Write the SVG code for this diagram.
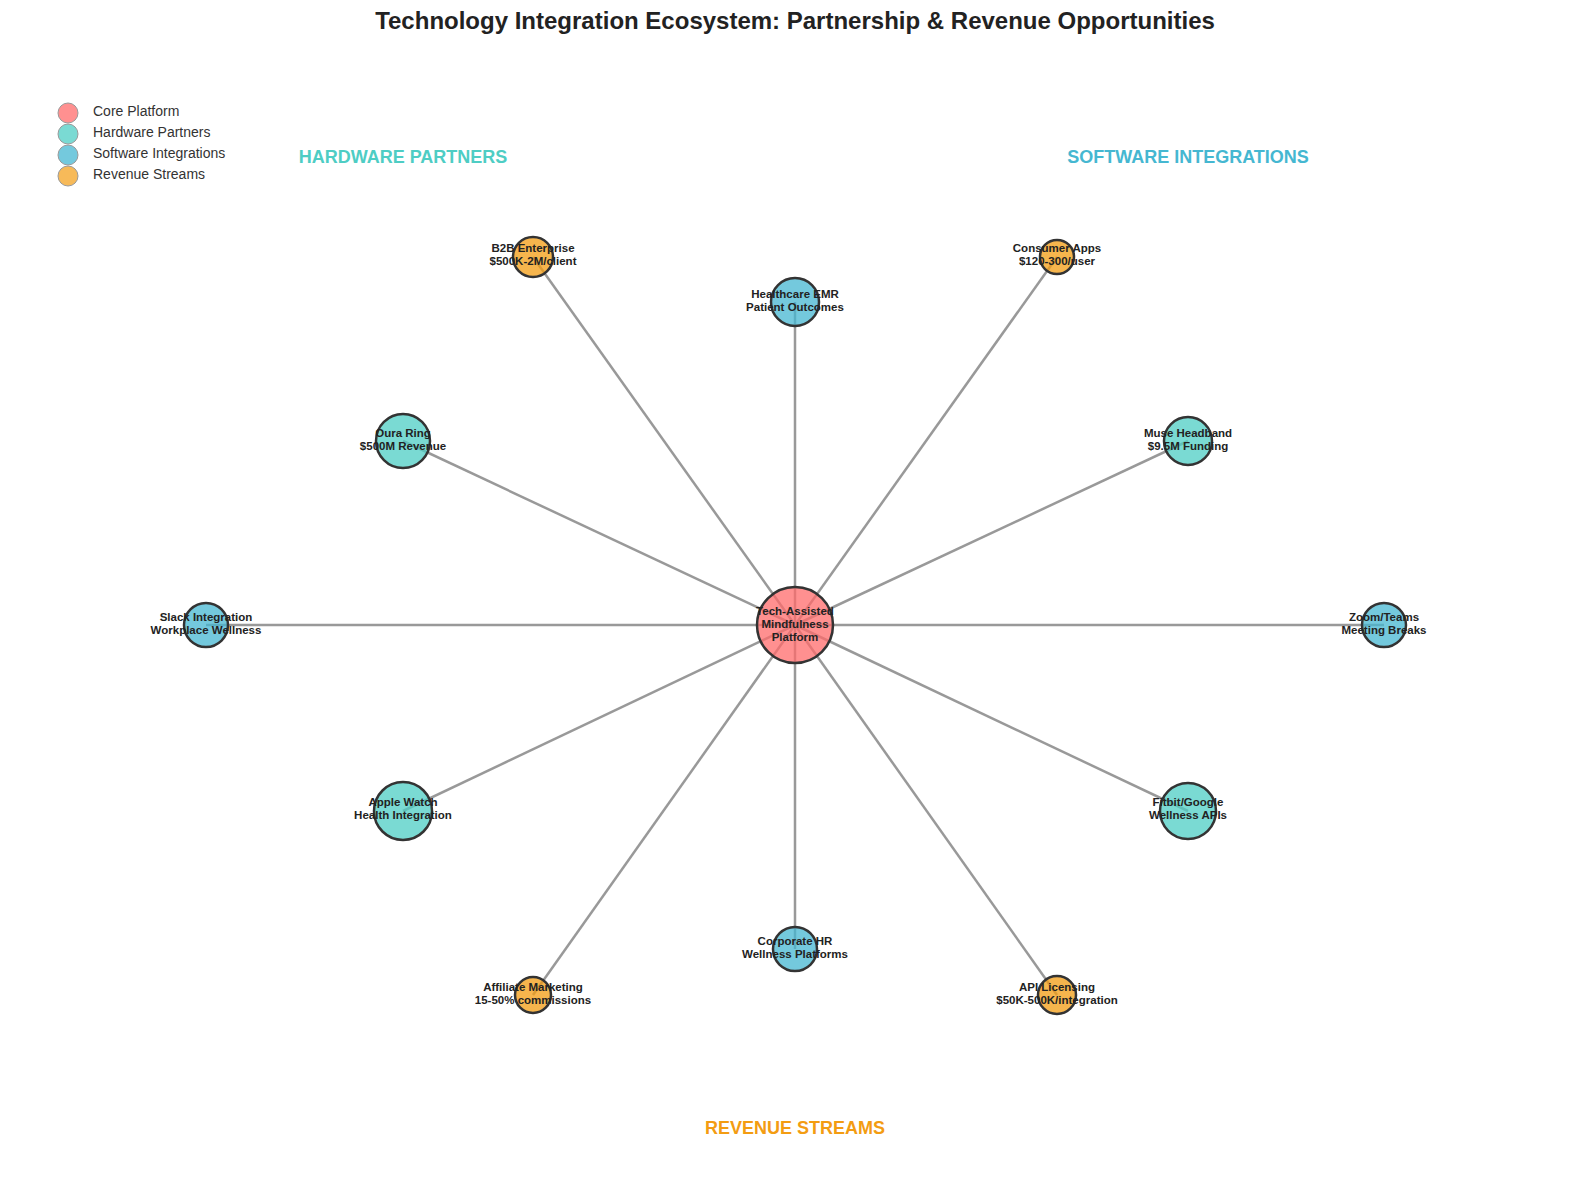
<svg xmlns="http://www.w3.org/2000/svg" width="1589" height="1190" viewBox="0 0 1589 1190">
<style>
.e{stroke:#999;stroke-width:2.5}
.n{stroke:#333;stroke-width:2.5;fill-opacity:.75}
.c{fill:#FF6B6B}.h{fill:#4ECDC4}.s{fill:#45B7D1}.r{fill:#F39C12}
.l{font-family:"Liberation Sans",Arial,sans-serif;font-size:11.5px;font-weight:bold;fill:#222;text-anchor:middle}
.g{font-family:"Liberation Sans",Arial,sans-serif;font-size:14px;fill:#333}
.sec{font-family:"Liberation Sans",Arial,sans-serif;font-size:18px;font-weight:bold;text-anchor:middle}
</style>
<rect width="1589" height="1190" fill="#fff"/>
<text x="795" y="29" text-anchor="middle" font-family="Liberation Sans,Arial,sans-serif" font-size="24" font-weight="bold" fill="#222">Technology Integration Ecosystem: Partnership &amp; Revenue Opportunities</text>
<g id="legend">
<circle cx="68" cy="113" r="10" class="c" fill-opacity=".75" stroke="#999"/><text x="93" y="116" class="g">Core Platform</text>
<circle cx="68" cy="134" r="10" class="h" fill-opacity=".75" stroke="#999"/><text x="93" y="137" class="g">Hardware Partners</text>
<circle cx="68" cy="155" r="10" class="s" fill-opacity=".75" stroke="#999"/><text x="93" y="158" class="g">Software Integrations</text>
<circle cx="68" cy="176" r="10" class="r" fill-opacity=".7" stroke="#999"/><text x="93" y="179" class="g">Revenue Streams</text>
</g>
<text x="403" y="163" class="sec" fill="#4ECDC4">HARDWARE PARTNERS</text>
<text x="1188" y="163" class="sec" fill="#45B7D1">SOFTWARE INTEGRATIONS</text>
<text x="795" y="1134" class="sec" fill="#F39C12">REVENUE STREAMS</text>
<g id="connectors">
<line class="e" x1="795" y1="625" x2="533" y2="257"/>
<line class="e" x1="795" y1="625" x2="795" y2="302"/>
<line class="e" x1="795" y1="625" x2="1057" y2="257"/>
<line class="e" x1="795" y1="625" x2="403" y2="441"/>
<line class="e" x1="795" y1="625" x2="1188" y2="441"/>
<line class="e" x1="795" y1="625" x2="206" y2="625"/>
<line class="e" x1="795" y1="625" x2="1384" y2="625"/>
<line class="e" x1="795" y1="625" x2="403" y2="811"/>
<line class="e" x1="795" y1="625" x2="1188" y2="811"/>
<line class="e" x1="795" y1="625" x2="795" y2="949"/>
<line class="e" x1="795" y1="625" x2="533" y2="995"/>
<line class="e" x1="795" y1="625" x2="1057" y2="995"/>
</g>
<g id="core"><circle class="n c" cx="795" cy="625" r="38"/><text class="l" x="795" y="615">Tech-Assisted</text><text class="l" x="795" y="628">Mindfulness</text><text class="l" x="795" y="641">Platform</text></g>
<g id="b2b"><circle class="n r" cx="533" cy="257" r="20"/><text class="l" x="533" y="252">B2B Enterprise</text><text class="l" x="533" y="265">$500K-2M/client</text></g>
<g id="emr"><circle class="n s" cx="795" cy="302" r="24"/><text class="l" x="795" y="298">Healthcare EMR</text><text class="l" x="795" y="311">Patient Outcomes</text></g>
<g id="consumer"><circle class="n r" cx="1057" cy="257" r="17"/><text class="l" x="1057" y="252">Consumer Apps</text><text class="l" x="1057" y="265">$120-300/user</text></g>
<g id="oura"><circle class="n h" cx="403" cy="441" r="27"/><text class="l" x="403" y="437">Oura Ring</text><text class="l" x="403" y="450">$500M Revenue</text></g>
<g id="muse"><circle class="n h" cx="1188" cy="441" r="24"/><text class="l" x="1188" y="437">Muse Headband</text><text class="l" x="1188" y="450">$9.5M Funding</text></g>
<g id="slack"><circle class="n s" cx="206" cy="625" r="22"/><text class="l" x="206" y="621">Slack Integration</text><text class="l" x="206" y="634">Workplace Wellness</text></g>
<g id="zoom"><circle class="n s" cx="1384" cy="625" r="22"/><text class="l" x="1384" y="621">Zoom/Teams</text><text class="l" x="1384" y="634">Meeting Breaks</text></g>
<g id="apple"><circle class="n h" cx="403" cy="811" r="29"/><text class="l" x="403" y="806">Apple Watch</text><text class="l" x="403" y="819">Health Integration</text></g>
<g id="fitbit"><circle class="n h" cx="1188" cy="811" r="28"/><text class="l" x="1188" y="806">Fitbit/Google</text><text class="l" x="1188" y="819">Wellness APIs</text></g>
<g id="hr"><circle class="n s" cx="795" cy="949" r="22"/><text class="l" x="795" y="945">Corporate HR</text><text class="l" x="795" y="958">Wellness Platforms</text></g>
<g id="affiliate"><circle class="n r" cx="533" cy="995" r="18"/><text class="l" x="533" y="991">Affiliate Marketing</text><text class="l" x="533" y="1004">15-50% commissions</text></g>
<g id="api"><circle class="n r" cx="1057" cy="995" r="19"/><text class="l" x="1057" y="991">API Licensing</text><text class="l" x="1057" y="1004">$50K-500K/integration</text></g>
</svg>
